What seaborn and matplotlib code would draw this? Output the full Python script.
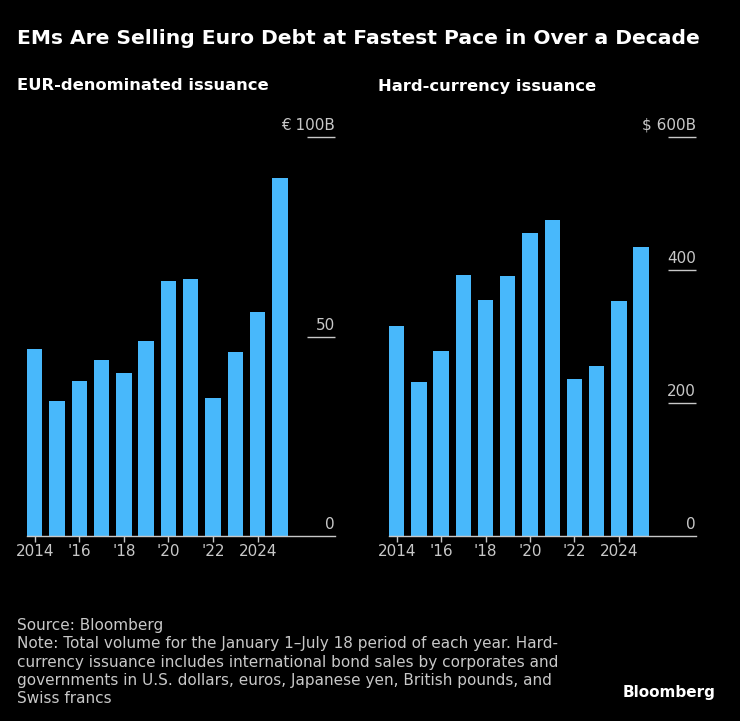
import matplotlib
matplotlib.use("Agg")
import matplotlib.pyplot as plt
import matplotlib.transforms as mtransforms
import seaborn as sns
import pandas as pd

# Values (Jan 1 - Jul 18 volume each year)
years = ["2014", "2015", "2016", "2017", "2018", "2019",
         "2020", "2021", "2022", "2023", "2024", "2025"]
eur_issuance = [46.9, 33.8, 38.8, 44.2, 40.9, 48.9, 63.9, 64.4, 34.6, 46.1, 56.2, 89.6]
hard_issuance = [316, 231, 278, 393, 355, 391, 456, 475, 236, 255, 353, 435]

year_ticks = ["2014", "'16", "'18", "'20", "'22", "2024"]
eur_ticks = [0, 50, 100]
eur_tick_labels = ["0", "50", "€ 100B"]
hard_ticks = [0, 200, 400, 600]
hard_tick_labels = ["0", "200", "400", "$ 600B"]

BG = "#000000"
BAR = "#48B8FB"
GREY = "#c8c8c8"

sns.set_theme(style="dark")
plt.rcParams["font.family"] = ["DejaVu Sans"]

fig = plt.figure(figsize=(7.40, 7.21), dpi=100, facecolor=BG)

ax_eur = fig.add_axes([27 / 740, 185 / 721, 308 / 740, 399 / 721])
ax_hard = fig.add_axes([389 / 740, 185 / 721, 307 / 740, 399 / 721])


def draw_panel(ax, values, top, ticks, tick_labels):
    df = pd.DataFrame({"year": years, "value": values})
    sns.barplot(data=df, x="year", y="value", color=BAR, saturation=1,
                width=0.69, linewidth=0, ax=ax)
    ax.set_facecolor(BG)
    ax.set_xlim(-0.345, 13.47)
    ax.set_ylim(0, top)
    ax.set_xlabel("")
    ax.set_ylabel("")
    ax.grid(False)
    for side in ["left", "top", "right"]:
        ax.spines[side].set_visible(False)
    ax.spines["bottom"].set_color(GREY)
    ax.spines["bottom"].set_linewidth(1)

    # x ticks every other year
    ax.set_xticks(range(0, len(years), 2))
    ax.set_xticklabels(year_ticks)
    ax.tick_params(axis="x", colors=GREY, labelcolor=GREY, labelsize=11,
                   length=4, width=1, direction="out", pad=2, bottom=True)

    # y ticks: short inward lines on the right with labels above them
    ax.set_yticks(ticks)
    ax.tick_params(axis="y", left=False, right=True, labelleft=False,
                   labelright=False, direction="in", length=20, width=1,
                   colors=GREY)
    trans = mtransforms.blended_transform_factory(ax.transAxes, ax.transData)
    offset = mtransforms.offset_copy(trans, fig=fig, x=0, y=4, units="dots")
    for v, lab in zip(ticks, tick_labels):
        ax.text(1.0, v, lab, transform=offset, ha="right", va="bottom",
                color=GREY, fontsize=11, clip_on=False)


draw_panel(ax_eur, eur_issuance, 100, eur_ticks, eur_tick_labels)
draw_panel(ax_hard, hard_issuance, 600, hard_ticks, hard_tick_labels)

# hide the zero tick mark (baseline already drawn)
for ax in (ax_eur, ax_hard):
    ax.yaxis.get_major_ticks()[0].tick2line.set_visible(False)

fig.text(17 / 740, 1 - 38 / 721, "EMs Are Selling Euro Debt at Fastest Pace in Over a Decade",
         color="white", fontsize=14.6, fontweight="bold", va="center", ha="left")
fig.text(17 / 740, 1 - 86 / 721, "EUR-denominated issuance",
         color="white", fontsize=11.8, fontweight="bold", va="center", ha="left")
fig.text(378 / 740, 1 - 86 / 721, "Hard-currency issuance",
         color="white", fontsize=11.8, fontweight="bold", va="center", ha="left")

note = ("Source: Bloomberg\n"
        "Note: Total volume for the January 1\u2013July 18 period of each year. Hard-\n"
        "currency issuance includes international bond sales by corporates and\n"
        "governments in U.S. dollars, euros, Japanese yen, British pounds, and\n"
        "Swiss francs")
fig.text(17 / 740, 1 - 618 / 721, note, color=GREY, fontsize=11, va="top",
         ha="left", linespacing=1.28)
fig.text(716 / 740, 1 - 693 / 721, "Bloomberg", color="white", fontsize=11,
         fontweight="bold", va="center", ha="right")

fig.savefig("out.png", dpi=100, facecolor=BG)
